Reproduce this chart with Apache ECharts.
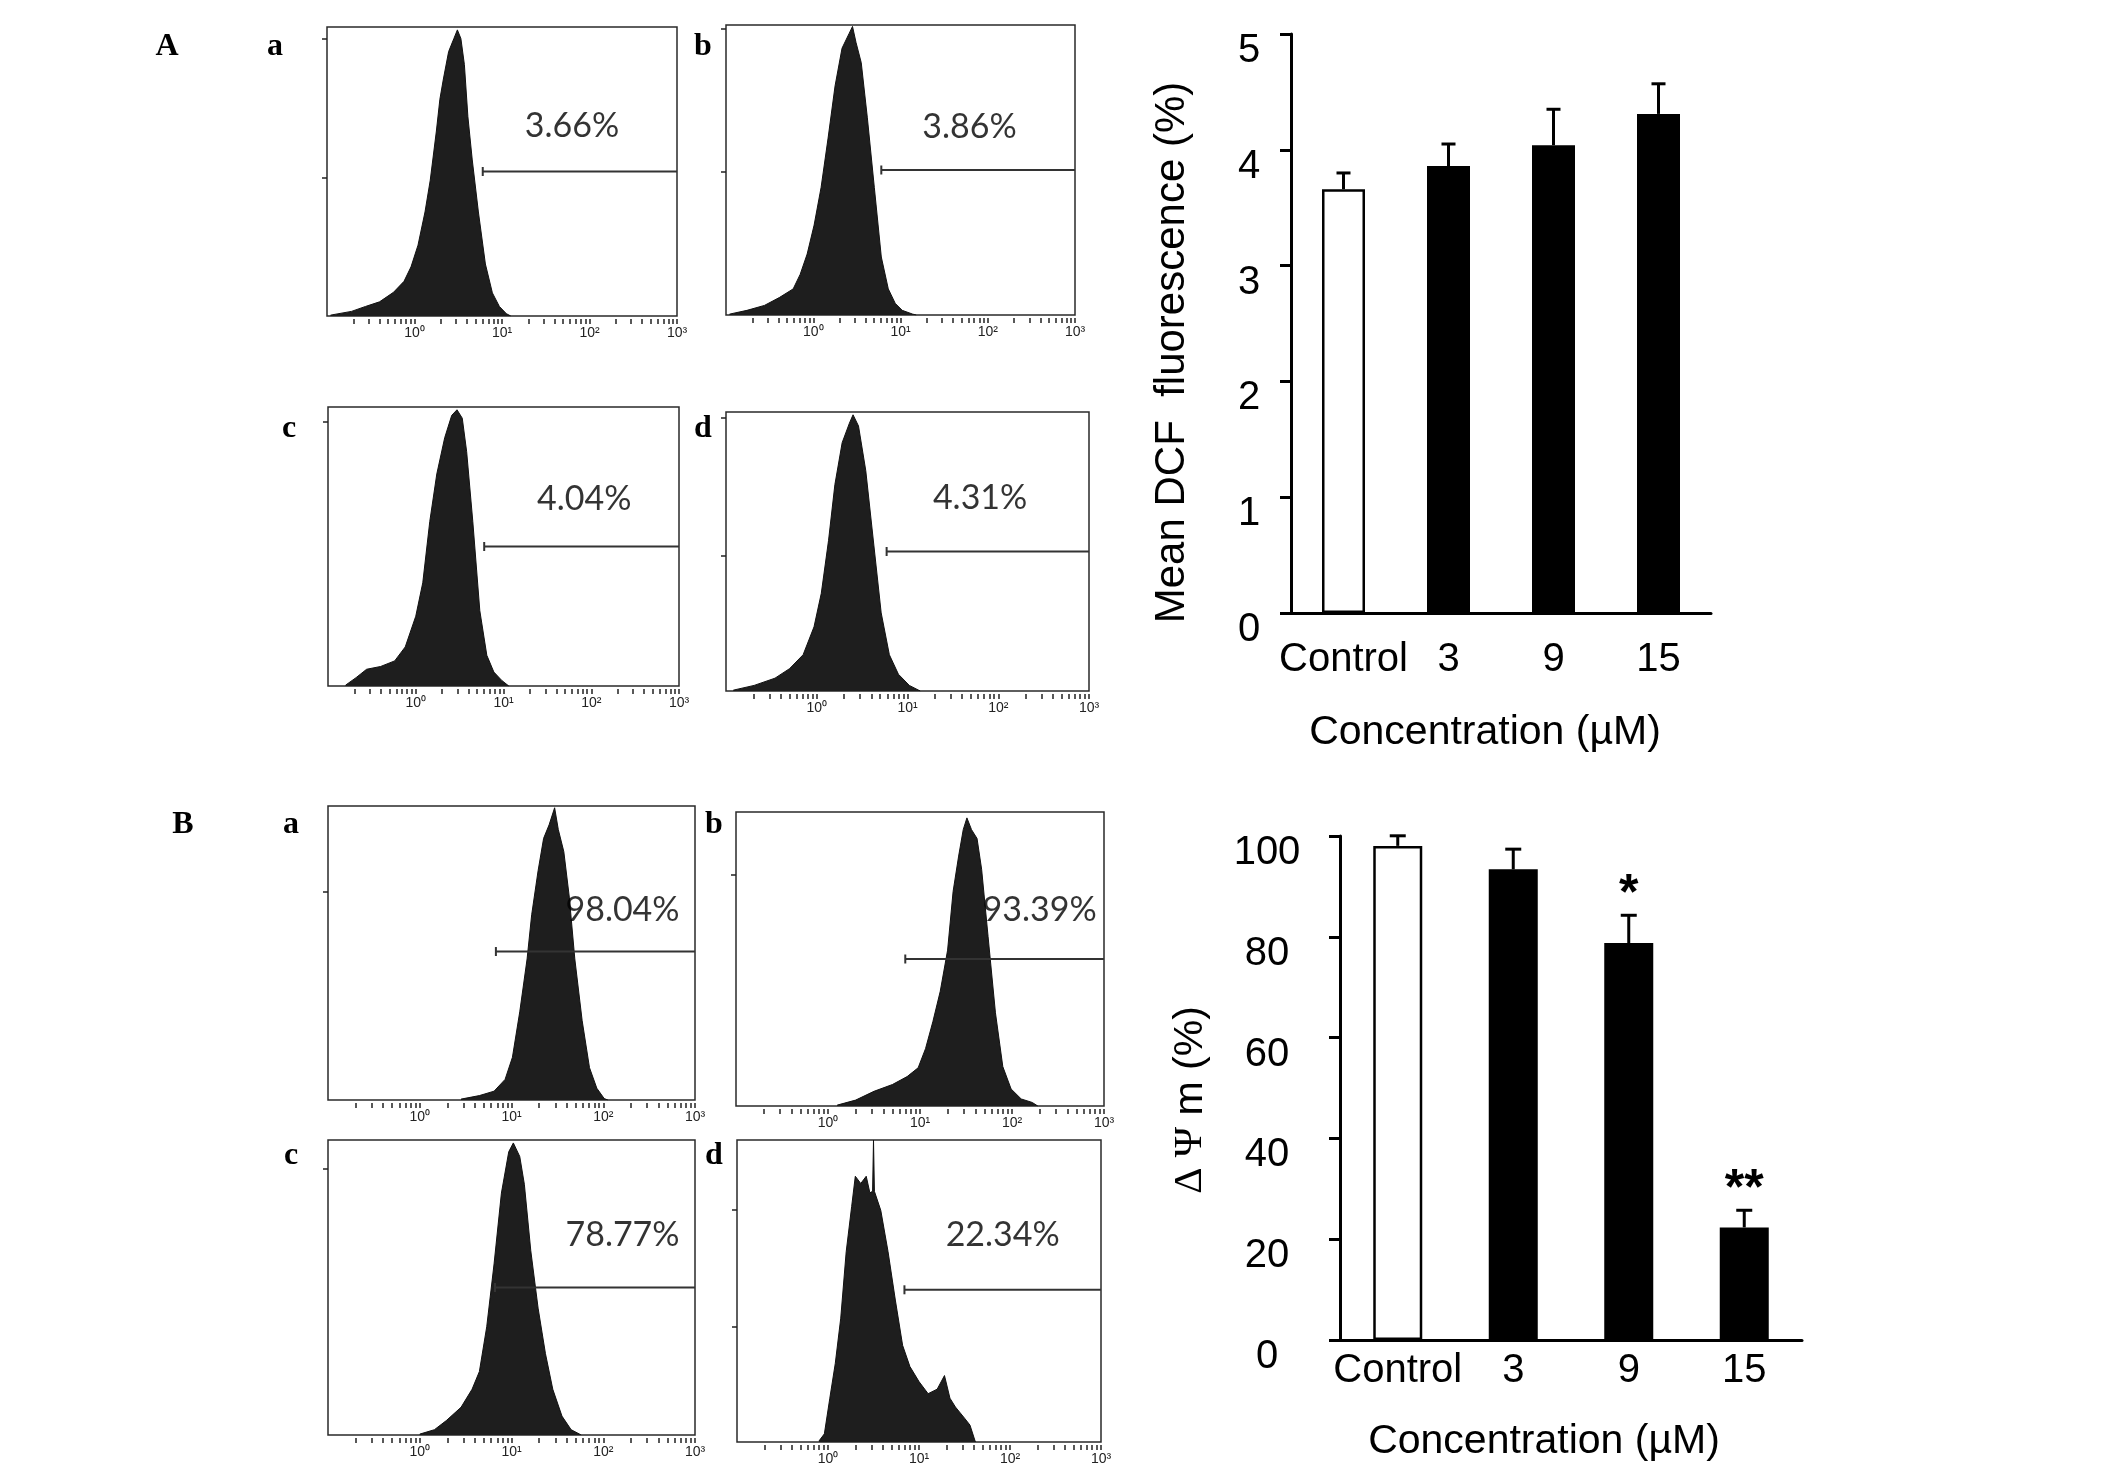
<!DOCTYPE html>
<html>
<head>
<meta charset="utf-8">
<script src="https://cdn.jsdelivr.net/npm/echarts@6/dist/echarts.min.js"></script>
<style>
html,body{margin:0;padding:0;background:#fff;}
#chart{width:2126px;height:1479px;}
</style>
</head>
<body>
<div id="chart"></div>
<script>
// ---------- DATA ----------
// Histograms: [log10(fluorescence), counts as % of panel height]
const histAa = [[-0.96,0.3],[-0.72,1.6],[-0.56,3.3],[-0.40,4.9],[-0.24,8.2],[-0.12,12],[-0.04,17],[0.04,24.5],[0.12,36],[0.18,47],[0.25,64],[0.29,75],[0.33,82],[0.39,91.5],[0.45,96],[0.49,99],[0.53,96],[0.57,87],[0.61,69],[0.66,54],[0.73,36],[0.81,18],[0.89,8],[0.97,3.3],[1.05,0.8],[1.10,0]];
const histAb = [[-0.96,0.3],[-0.76,1.6],[-0.56,3.3],[-0.39,6],[-0.23,9],[-0.15,14],[-0.07,21],[0.01,31],[0.09,44],[0.17,61],[0.25,79],[0.33,92],[0.41,97],[0.45,99.5],[0.49,94],[0.55,87],[0.62,68],[0.70,44],[0.78,20],[0.86,9],[0.94,4],[1.02,1.6],[1.14,0.3],[1.18,0]];
const histAc = [[-0.80,0.3],[-0.68,3],[-0.56,6],[-0.40,7],[-0.24,9],[-0.12,14],[0.0,25],[0.08,37],[0.16,59],[0.24,76],[0.33,89],[0.41,97],[0.47,99],[0.53,96],[0.58,84],[0.65,59],[0.73,27],[0.81,11],[0.89,5],[0.98,2],[1.06,0]];
const histAd = [[-0.92,0.3],[-0.69,2],[-0.46,4.6],[-0.30,8],[-0.15,13],[-0.03,23],[0.05,35],[0.13,54],[0.20,74],[0.28,89],[0.36,96],[0.40,99],[0.46,95],[0.54,79],[0.63,52],[0.71,28],[0.80,13],[0.90,6],[1.02,2],[1.14,0]];
const histBa = [[0.45,0.3],[0.65,1.5],[0.81,3],[0.93,7],[1.01,14.5],[1.09,30],[1.17,48],[1.22,63],[1.29,78],[1.35,89],[1.41,93.6],[1.47,99.4],[1.51,92],[1.57,84.5],[1.63,69],[1.69,48],[1.77,27],[1.85,11],[1.93,4],[2.01,0.5],[2.05,0]];
const histBb = [[0.10,0.3],[0.30,2],[0.50,5],[0.70,7.3],[0.86,10],[0.98,13],[1.06,19.5],[1.14,28.7],[1.22,39],[1.30,53],[1.36,73],[1.42,85],[1.47,94],[1.51,98],[1.56,94],[1.62,91],[1.67,80.5],[1.74,57.6],[1.82,31.7],[1.90,13.4],[1.99,5.8],[2.10,2.4],[2.22,1.2],[2.28,0]];
const histBc = [[0.0,0.3],[0.16,1.8],[0.29,4.9],[0.45,9.4],[0.57,15.5],[0.65,21.5],[0.73,36.7],[0.81,58],[0.89,82],[0.97,96],[1.02,99],[1.09,94.4],[1.14,85],[1.21,62.5],[1.29,43],[1.37,27.6],[1.45,15.5],[1.55,6.4],[1.65,1.8],[1.76,0]];
const histBd = [[-0.10,0.3],[-0.04,2.7],[0.02,14.5],[0.08,26],[0.14,41],[0.20,63],[0.26,78],[0.30,88],[0.36,85.6],[0.42,88],[0.46,82.5],[0.49,83],[0.50,100],[0.51,83],[0.58,76.7],[0.66,63],[0.74,47],[0.82,32],[0.90,25],[1.00,20],[1.10,16],[1.20,17.5],[1.28,22],[1.34,14.5],[1.40,11.6],[1.50,7.9],[1.56,5.6],[1.62,0]];

const pctLabels  = ['3.66%','3.86%','4.04%','4.31%','98.04%','93.39%','78.77%','22.34%'];
const gateStart  = [0.78,0.78,0.78,0.77,0.83,0.84,0.82,0.84];
const gateLevel  = [50,50,50,50,50.5,50,50,50.4];
const labelPos   = [[1.80,65.7],[1.79,64.8],[1.92,67],[1.80,69],[2.21,64.7],[2.30,66.8],[2.21,67.8],[1.92,68.6]];
const histYTicks = [[47.7,96],[49.4,98.8],[94.7],[48.4,98],[70.8],[78.5],[90.4],[38.2,77]];
const decadeVals   = [0,1,2,3];
const decadeLabels = ['10\u2070','10\u00B9','10\u00B2','10\u00B3'];
const minorMult    = [2,3,4,5,6,7,8,9];

// Bar charts
const categories = ['Control','3','9','15'];
const dcfMean = [3.66,3.86,4.04,4.31];
const dcfErr  = [0.14,0.19,0.31,0.26];
const mmpMean = [98.04,93.39,78.77,22.34];
const mmpErr  = [2.0,4.0,5.5,3.4];
const mmpSig  = ['','','*','**'];

// ---------- LAYOUT ----------
const hists = [histAa,histAb,histAc,histAd,histBa,histBb,histBc,histBd];
const histGrids = [
  {left:327,top:27,width:350,height:289},
  {left:726,top:25,width:349,height:290},
  {left:328,top:407,width:351,height:279},
  {left:726,top:412,width:363,height:279},
  {left:328,top:806,width:367,height:294},
  {left:736,top:812,width:368,height:294},
  {left:328,top:1140,width:367,height:295},
  {left:737,top:1140,width:364,height:302}
];
const panelLetters = [
  ['A',167,47],['a',275,47],['b',703,47],['c',289,429],['d',703,429],
  ['B',183,825],['a',291,825],['b',714,825],['c',291,1156],['d',714,1156]
];

const xTickVals = [];
for (let d=-1; d<3; d++) {
  minorMult.forEach(m => xTickVals.push(d + Math.log10(m)));
  xTickVals.push(d+1);
}

const FONT = 'Liberation Sans';
const option = {animation:false, backgroundColor:'#fff', grid:[], xAxis:[], yAxis:[], series:[], graphic:[]};

hists.forEach((h,i) => {
  option.grid.push(Object.assign({show:true, borderColor:'#2a2a2a', borderWidth:1.5, backgroundColor:'#fff'}, histGrids[i]));
  option.xAxis.push({
    gridIndex:i, type:'value', min:-1, max:3, offset:3,
    axisLine:{show:false, onZero:false}, splitLine:{show:false},
    axisTick:{show:true, customValues:xTickVals, length:5, lineStyle:{color:'#222', width:1.5}},
    axisLabel:{show:true, customValues:decadeVals, formatter:v=>decadeLabels[decadeVals.indexOf(Math.round(v))],
      fontSize:14, color:'#222', margin:7, fontFamily:FONT}
  });
  option.yAxis.push({
    gridIndex:i, type:'value', min:0, max:100,
    axisLine:{show:false, onZero:false}, splitLine:{show:false}, axisLabel:{show:false},
    axisTick:{show:true, customValues:histYTicks[i], length:5, lineStyle:{color:'#222', width:1.5}}
  });
  option.series.push({
    type:'line', xAxisIndex:i, yAxisIndex:i, data:h, symbol:'none',
    lineStyle:{color:'#111', width:1}, areaStyle:{color:'#1e1e1e', opacity:1}, z:2
  });
  option.series.push({
    type:'line', xAxisIndex:i, yAxisIndex:i, symbol:'rect', showSymbol:true,
    data:[{value:[gateStart[i],gateLevel[i]], symbol:'rect', symbolSize:[2,9]},{value:[3,gateLevel[i]], symbol:'none'}],
    lineStyle:{color:'#333', width:2}, itemStyle:{color:'#333'}, z:3
  });
  option.series.push({
    type:'scatter', xAxisIndex:i, yAxisIndex:i, symbolSize:1,
    itemStyle:{color:'rgba(0,0,0,0)'},
    data:[{value:labelPos[i], name:pctLabels[i]}],
    label:{show:true, position:'inside', formatter:'{b}', fontSize:34, fontFamily:'Lato', color:'#000'}, z:4
  });
});

panelLetters.forEach(([t,x,y]) => {
  option.graphic.push({type:'text', x:x, y:y, style:{text:t, fill:'#000', fontSize:32, fontWeight:'bold',
    fontFamily:'Liberation Serif', align:'center', verticalAlign:'middle'}});
});

function errRender(capW, sig) {
  return function(params, api) {
    const i = api.value(0), v = api.value(1), e = api.value(2);
    const p0 = api.coord([i, v]), p1 = api.coord([i, v + e]);
    const ch = [
      {type:'line', shape:{x1:p0[0],y1:p0[1],x2:p1[0],y2:p1[1]}, style:{stroke:'#000', lineWidth:3}},
      {type:'line', shape:{x1:p1[0]-capW/2,y1:p1[1],x2:p1[0]+capW/2,y2:p1[1]}, style:{stroke:'#000', lineWidth:3}}
    ];
    if (sig && sig[i]) ch.push({type:'text', x:p1[0], y:p1[1]-20,
      style:{text:sig[i], fill:'#000', fontSize:50, fontWeight:'bold', fontFamily:FONT, align:'center', verticalAlign:'middle'}});
    return {type:'group', children:ch};
  };
}

function addBarChart(gi, grid, mean, err, sig, yMax, yInt, barW, capW, cfg) {
  option.grid.push(grid);
  option.xAxis.push({
    gridIndex:gi, type:'category', data:categories,
    axisLine:{show:true, lineStyle:{color:'#000', width:3}}, axisTick:{show:false},
    axisLabel:{interval:0, fontSize:40, color:'#000', margin:cfg.catMargin, lineHeight:40, fontFamily:FONT},
    name:'Concentration (\u00B5M)', nameLocation:'middle', nameGap:cfg.xNameGap,
    nameTextStyle:{fontSize:41, color:'#000', fontFamily:FONT, padding:[0,cfg.xNamePadR,0,0]}
  });
  option.yAxis.push({
    gridIndex:gi, type:'value', min:0, max:yMax, interval:yInt,
    axisLine:{show:true, lineStyle:{color:'#000', width:3}},
    axisTick:{show:true, length:11, lineStyle:{color:'#000', width:3}},
    splitLine:{show:false},
    axisLabel:{fontSize:40, color:'#000', align:'center', verticalAlign:'top', lineHeight:34,
      margin:cfg.yLabMargin, fontFamily:FONT},
    name:cfg.yName, nameLocation:'middle', nameRotate:90, nameGap:cfg.yNameGap,
    nameTextStyle:{fontSize:cfg.yNameSize, color:'#000', fontFamily:FONT, padding:[0,cfg.yNamePadR,0,0],
      rich:{g:{fontSize:cfg.yNameSize, fontFamily:'Liberation Serif', color:'#000'}}}
  });
  option.series.push({
    type:'bar', xAxisIndex:gi, yAxisIndex:gi, barWidth:barW,
    data:mean.map((v,i)=>({value:v, itemStyle: i===0
      ? {color:'#fff', borderColor:'#000', borderWidth:2.5}
      : {color:'#000', borderColor:'#000', borderWidth:2}})),
    z:2
  });
  option.series.push({
    type:'custom', xAxisIndex:gi, yAxisIndex:gi, renderItem:errRender(capW, sig),
    data:mean.map((v,i)=>[i, v, err[i]]), z:3
  });
}

addBarChart(8, {left:1291, top:34, width:420, height:579}, dcfMean, dcfErr, null, 5, 1, 43, 14,
  {catMargin:27, xNameGap:99, xNamePadR:32, yLabMargin:42,
   yName:'Mean DCF  fluorescence (%)', yNameSize:42, yNameGap:98, yNamePadR:58});
addBarChart(9, {left:1340, top:836, width:462, height:504}, mmpMean, mmpErr, mmpSig, 100, 20, 49, 16,
  {catMargin:11, xNameGap:81, xNamePadR:54, yLabMargin:73,
   yName:'{g|\u0394 \u03A8} m (%)', yNameSize:41, yNameGap:129, yNamePadR:24});

const chart = echarts.init(document.getElementById('chart'), null, {renderer:'canvas', width:2126, height:1479});
chart.setOption(option);
</script>
</body>
</html>
